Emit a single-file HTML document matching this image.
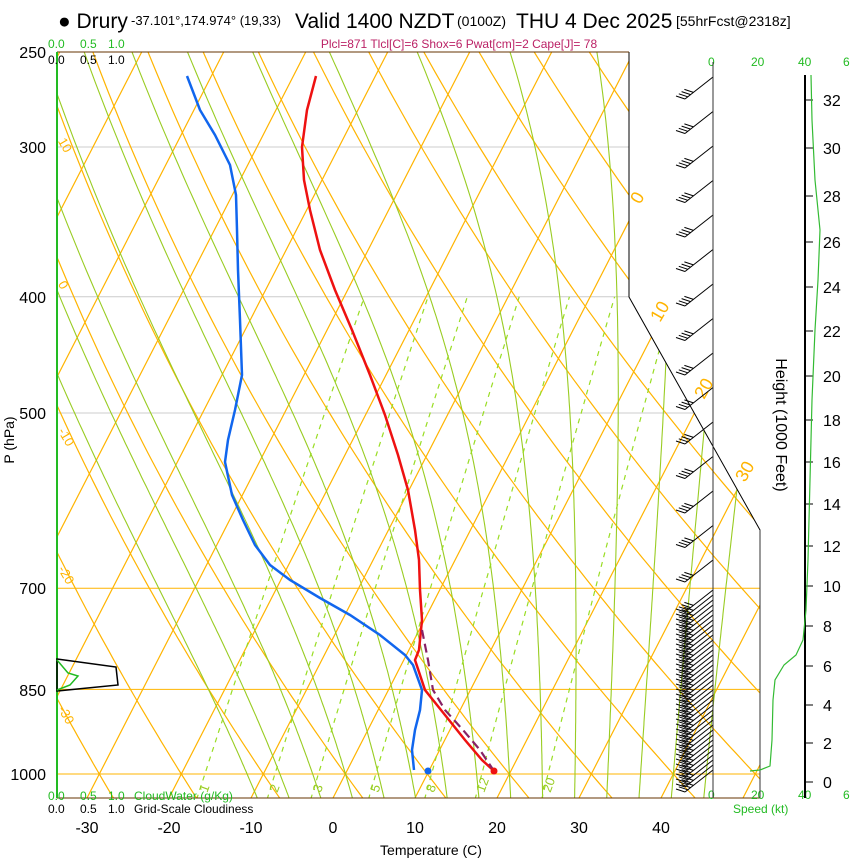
<!DOCTYPE html>
<html><head><meta charset="utf-8"><style>
body{margin:0;background:#fff;width:850px;height:860px;overflow:hidden}
svg{display:block;font-family:"Liberation Sans",sans-serif}
</style></head><body>
<svg id="s" width="850" height="860" xmlns="http://www.w3.org/2000/svg">
<defs><clipPath id="c"><polygon points="57,52 629,52 629,297 760,530 760,798 57,798"/></clipPath></defs>
<g id="bg" clip-path="url(#c)"></g>
<polyline points="629,52 629,297 760,530 760,798" fill="none" stroke="#000" stroke-width="1"/>
<line x1="57" y1="52" x2="629" y2="52" stroke="#663300" stroke-width="1"/>
<line x1="57" y1="798" x2="760" y2="798" stroke="#663300" stroke-width="1"/>
<line x1="57" y1="52" x2="57" y2="798" stroke="#22bb22" stroke-width="2"/>
<g id="fg"></g>
<text x="58" y="28" font-size="21">● Drury</text>
<text x="131" y="25" font-size="13">-37.101°,174.974° (19,33)</text>
<text x="295" y="28" font-size="21">Valid 1400 NZDT</text>
<text x="457" y="26" font-size="14">(0100Z)</text>
<text x="516" y="28" font-size="21">THU 4 Dec 2025</text>
<text x="676" y="26" font-size="14">[55hrFcst@2318z]</text>
<text x="459" y="48" font-size="12" fill="#bb2266" text-anchor="middle">Plcl=871 Tlcl[C]=6 Shox=6 Pwat[cm]=2 Cape[J]= 78</text>
<g font-size="12" fill="#22bb22"><text x="48" y="48">0.0</text><text x="80" y="48">0.5</text><text x="108" y="48">1.0</text>
<text x="48" y="800">0.0</text><text x="80" y="800">0.5</text><text x="108" y="800">1.0</text><text x="134" y="800" font-size="12">CloudWater (g/Kg)</text>
<text x="708" y="66">0</text><text x="751" y="66">20</text><text x="798" y="66">40</text><text x="843" y="66">6</text>
<text x="708" y="799">0</text><text x="751" y="799">20</text><text x="798" y="799">40</text><text x="843" y="799">6</text>
<text x="733" y="813" font-size="12">Speed (kt)</text></g>
<g font-size="12"><text x="48" y="64">0.0</text><text x="80" y="64">0.5</text><text x="108" y="64">1.0</text>
<text x="48" y="813">0.0</text><text x="80" y="813">0.5</text><text x="108" y="813">1.0</text><text x="134" y="813" font-size="12">Grid-Scale Cloudiness</text></g>
<g font-size="16" text-anchor="end"><text x="46" y="58">250</text><text x="46" y="153">300</text><text x="46" y="303">400</text><text x="46" y="419">500</text><text x="46" y="594">700</text><text x="46" y="696">850</text><text x="46" y="780">1000</text></g>
<g font-size="16" text-anchor="middle"><text x="87" y="833">-30</text><text x="169" y="833">-20</text><text x="251" y="833">-10</text><text x="333" y="833">0</text><text x="415" y="833">10</text><text x="497" y="833">20</text><text x="579" y="833">30</text><text x="661" y="833">40</text></g>
<text x="431" y="855" font-size="14" text-anchor="middle">Temperature (C)</text>
<text transform="translate(14,440) rotate(-90)" font-size="14" text-anchor="middle">P (hPa)</text>
<text transform="translate(776,425) rotate(90)" font-size="16" text-anchor="middle">Height (1000 Feet)</text>
<line x1="805" y1="75" x2="805" y2="798" stroke="#000" stroke-width="2"/>
<line x1="713" y1="62" x2="713" y2="798" stroke="#333" stroke-width="1"/>
<line x1="760" y1="530" x2="760" y2="798" stroke="#333" stroke-width="1"/>
<g id="ht" font-size="16"></g>
<polyline points="811,75 812,120 815,180 820,230 818,280 815,330 812,400 810,480 808,560 806,610 803,640 796,655 784,665 775,680 773,700 772,740 770,766 760,770 750,771" fill="none" stroke="#33bb33" stroke-width="1.2"/>
<polygon points="57,659 116,667 118,685 57,691" fill="none" stroke="#000" stroke-width="1.5"/>
<polyline points="57,660 68,673 78,676 70,685 57,690" fill="none" stroke="#22bb22" stroke-width="1.5"/>
<polyline points="316,76 307,110 302,147 304,180 310,210 320,250 335,290 352,330 370,375 385,415 398,455 408,490 415,530 419,560 420,590 422,620 419,650 415,660 425,690 445,715 465,740 482,760 494,771" fill="none" stroke="#ee1111" stroke-width="2.5"/>
<polyline points="422,630 428,660 433,690 445,710 463,730 480,750 494,771" fill="none" stroke="#882266" stroke-width="2.2" stroke-dasharray="9,5"/>
<polyline points="187,76 200,110 215,135 230,165 236,195 237,230 238,270 240,320 242,375 235,410 228,440 225,462 232,495 243,520 255,545 270,565 290,580 320,598 350,615 380,635 405,655 413,665 422,690 420,710 415,730 412,750 414,770" fill="none" stroke="#1166ee" stroke-width="2.5"/>
<circle cx="494" cy="771" r="3.5" fill="#ee1111"/><circle cx="428" cy="771" r="3.5" fill="#1166ee"/>
</svg>
<script>
var NS="http://www.w3.org/2000/svg";
function el(p,t,a,txt){var e=document.createElementNS(NS,t);for(var k in a)e.setAttribute(k,a[k]);if(txt!=null)e.textContent=txt;p.appendChild(e);return e;}
function Y(p){return 774+520.8*Math.log(p/1000);}
function X(T,y){return 333+8.2*T+0.513*(798-y);}
var bg=document.getElementById('bg'),fg=document.getElementById('fg');
var OR="#ffb400",GR="#99cc22";
[[300,"#cccccc"],[400,"#cccccc"],[500,"#cccccc"],[700,OR],[850,OR],[1000,OR]].forEach(function(a){var y=Y(a[0]);el(bg,'line',{x1:57,x2:760,y1:y,y2:y,stroke:a[1],'stroke-width':1});});
for(var T=-110;T<=50;T+=10){el(bg,'line',{x1:X(T,798),y1:798,x2:X(T,52),y2:52,stroke:OR,'stroke-width':1.2});}
for(var th=-60;th<=150;th+=10){var pts=[];for(var p=1060;p>=240;p-=10){var t=(th+273.15)*Math.pow(p/1000,0.286)-273.15;var y=Y(p);pts.push(X(t,y).toFixed(1)+","+y.toFixed(1));}el(bg,'polyline',{points:pts.join(" "),fill:"none",stroke:OR,'stroke-width':1.2});}
function es(t){return 6.112*Math.exp(17.67*t/(t+243.5));}
function gam(p,t){var T=t+273.15,e=es(t),r=0.622*e/(p-e),Lv=2.5e6,Rd=287,cp=1005;return (Rd*T+Lv*r)/(p*(cp+Lv*Lv*r*0.622/(Rd*T*T)));}
for(var tw=-12;tw<=44;tw+=4){var tt=tw;for(var pp=1000;pp<1060;pp+=5){tt+=gam(pp,tt)*5;}
 var t=tt,pts=[];for(var p=1060;p>=240;p-=5){var y=Y(p);pts.push(X(t,y).toFixed(1)+","+y.toFixed(1));t-=gam(p,t)*5;}
 el(bg,'polyline',{points:pts.join(" "),fill:"none",stroke:GR,'stroke-width':1.1});}
[1,2,3,5,8,12,20].forEach(function(w){var pts=[];for(var p=1050;p>=400;p-=10){var e=w*p/(622+w),l=Math.log(e/6.112),td=243.5*l/(17.67-l),y=Y(p);pts.push(X(td,y).toFixed(1)+","+y.toFixed(1));}
 el(bg,'polyline',{points:pts.join(" "),fill:"none",stroke:"#99dd22",'stroke-width':1.2,'stroke-dasharray':"5,5"});
 var e=w*1000/(622+w),l=Math.log(e/6.112),td=243.5*l/(17.67-l);el(fg,'text',{x:X(td,774)-4,y:792,'font-size':13,fill:GR,transform:"rotate(-70 "+(X(td,774))+" 788)"},String(w));});
[[10,147],[0,290],[-10,437],[-20,575],[-30,715]].forEach(function(a){el(fg,'text',{x:60,y:a[1],'font-size':13,fill:OR,transform:"rotate(60 64 "+(a[1]-5)+")"},String(a[0]));});
[[0,640,205],[10,660,323],[20,704,400],[30,745,483]].forEach(function(a){el(fg,'text',{x:a[1],y:a[2],'font-size':18,fill:OR,transform:"rotate(-60 "+a[1]+" "+a[2]+")"},String(a[0]));});
var ht=document.getElementById('ht');
[[32,100],[30,148],[28,196],[26,242],[24,287],[22,331],[20,376],[18,420],[16,462],[14,504],[12,546],[10,586],[8,626],[6,666],[4,705],[2,743],[0,782]].forEach(function(a){el(ht,'line',{x1:805,x2:813,y1:a[1],y2:a[1],stroke:'#000'});el(ht,'text',{x:823,y:a[1]+6},String(a[0]));});
var ys=[];for(var y=77;y<590;y+=34.5)ys.push(y);for(var y=590;y<=770;y+=5)ys.push(y);
ys.forEach(function(y){var dx=-28,dy=22,ex=713+dx,ey=y+dy;el(fg,'line',{x1:713,y1:y,x2:ex,y2:ey,stroke:'#000','stroke-width':1});
 for(var i=0;i<4;i++){var f=i*0.1,bx=713+dx*(1-f),by=y+dy*(1-f);el(fg,'line',{x1:bx,y1:by,x2:bx-9,y2:by-3,stroke:'#000','stroke-width':1});}});
</script>
</body></html>
